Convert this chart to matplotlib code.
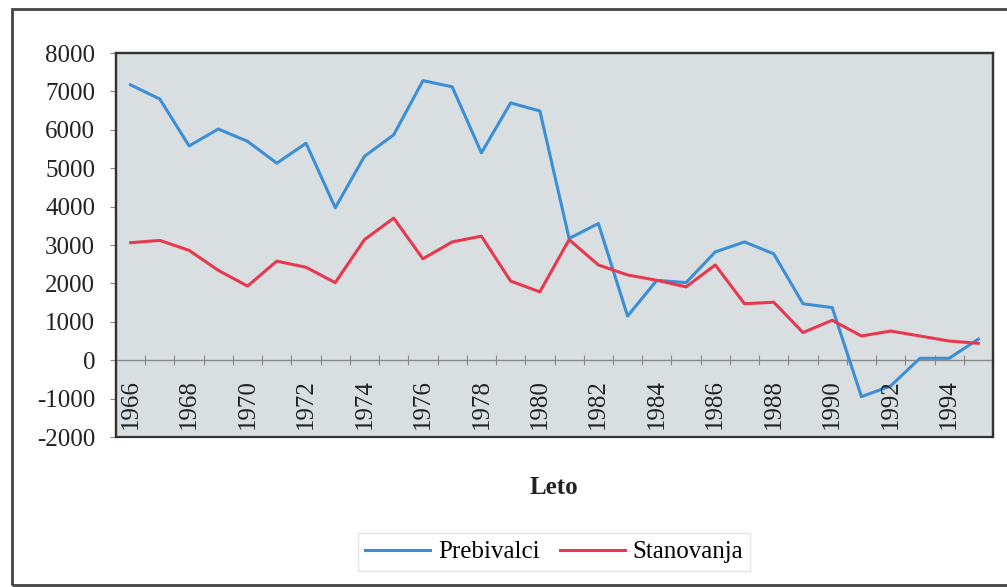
import matplotlib
matplotlib.use("Agg")
import matplotlib.pyplot as plt
from matplotlib.patches import Rectangle
from matplotlib.ticker import FuncFormatter
import numpy as np

years = list(range(1966, 1996))
prebivalci = [7170, 6800, 5580, 6020, 5700, 5130, 5650, 3970, 5310, 5870,
              7280, 7120, 5400, 6700, 6490, 3170, 3560, 1150, 2080, 2020,
              2820, 3080, 2770, 1470, 1370, -950, -670, 50, 50, 550]
stanovanja = [3060, 3120, 2860, 2340, 1930, 2580, 2420, 2020, 3140, 3700,
              2640, 3080, 3230, 2060, 1780, 3140, 2480, 2220, 2080, 1910,
              2480, 1470, 1510, 720, 1040, 630, 760, 630, 500, 440]
y_ticks = list(range(-2000, 8001, 1000))

plt.rcParams['font.family'] = ['Liberation Serif', 'DejaVu Serif']

W, H = 1007, 587
fig = plt.figure(figsize=(W / 100, H / 100), dpi=100)
ax = fig.add_axes([116 / W, 1 - 437 / H, 877 / W, 384 / H])
ax.set_facecolor('#d9dee1')

x = np.arange(len(years))
ax.plot(x, prebivalci, color='#3b8fd6', lw=2.2, label='Prebivalci', zorder=3)
ax.plot(x, stanovanja, color='#e8384f', lw=2.2, label='Stanovanja', zorder=3)

ax.set_xlim(-0.5, len(years) - 0.5)
ax.set_ylim(y_ticks[0], y_ticks[-1])

# y axis
ax.set_yticks(y_ticks)
ax.yaxis.set_major_formatter(FuncFormatter(lambda v, p: '%d' % v))
ax.tick_params(axis='y', labelsize=18, length=4, width=0.8, color='#888888',
               pad=11, labelcolor='#222222')

# category axis crossing at zero, ticks between categories
ax.spines['bottom'].set_position(('data', 0))
ax.spines['bottom'].set_color('#8a8a8a')
ax.spines['bottom'].set_linewidth(1.0)
ax.set_xticks(np.arange(len(years) + 1) - 0.5)
ax.set_xticklabels([])
ax.tick_params(axis='x', direction='inout', length=7, width=0.8, color='#8a8a8a')
for s in ['left', 'top', 'right']:
    ax.spines[s].set_color('#333333')
    ax.spines[s].set_linewidth(1.6)
ax.add_patch(Rectangle((0, 0), 1, 1, transform=ax.transAxes, fill=False,
                       ec='#333333', lw=1.6, clip_on=False, zorder=5))

# year labels sit low, inside the plot area
tr = ax.get_xaxis_transform()
for i, yr in enumerate(years):
    if i % 2 == 0:
        ax.text(i, 0.022, str(yr), transform=tr, rotation=90, ha='center',
                va='bottom', fontsize=18, color='#222222')

fig.text(554 / W, 1 - 488 / H, 'Leto', ha='center', va='center',
         fontsize=18, fontweight='bold', color='#222222')

leg = fig.legend(loc='center', bbox_to_anchor=(554 / W, 1 - 552 / H), ncol=2,
                 fontsize=18, frameon=True, fancybox=False, handlelength=2.6,
                 handletextpad=0.3, columnspacing=0.8, borderpad=0.3)
leg.get_frame().set_edgecolor('#dddddd')
leg.get_frame().set_linewidth(1.0)

# outer chart border (right side runs off the picture)
fig.patches.append(Rectangle((12 / W, 2 / H), 1.2, 1 - 11 / H,
                             transform=fig.transFigure, fill=False,
                             ec='#444444', lw=2.0, figure=fig))

fig.savefig('out.png', dpi=100)
